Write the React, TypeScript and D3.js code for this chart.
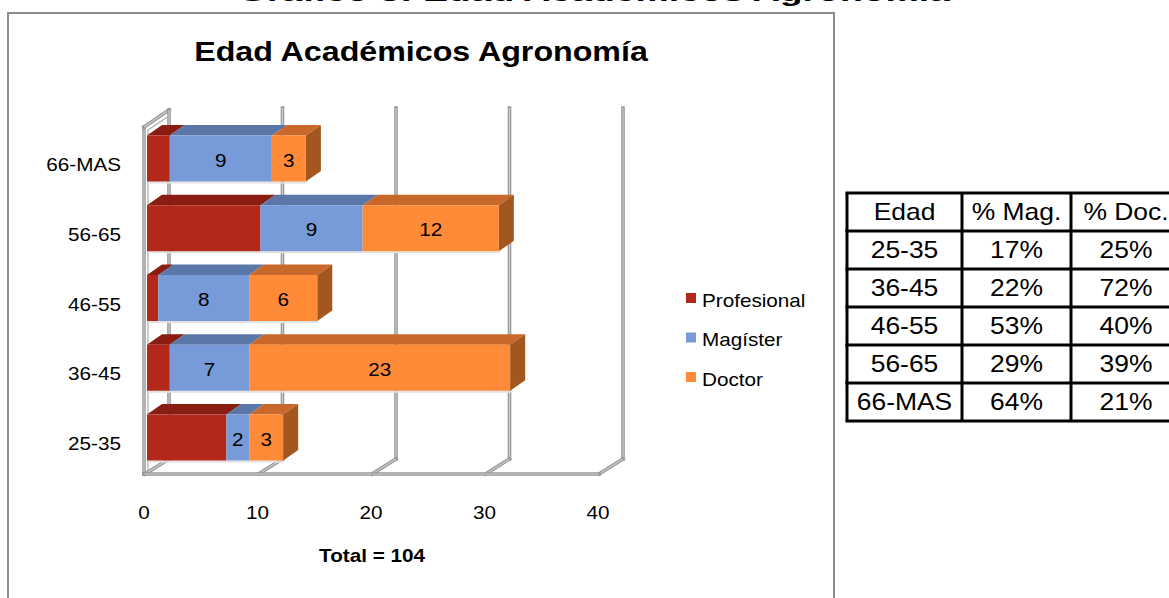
import React from "react";
import * as d3 from "d3";

// ---- data ----
const categories = ["25-35", "36-45", "46-55", "56-65", "66-MAS"];
const profesional = [7, 2, 1, 10, 2];
const magister = [2, 7, 8, 9, 9];
const doctor = [3, 23, 6, 12, 3];
const seriesNames = ["Profesional", "Magíster", "Doctor"];
const xTicks = [0, 10, 20, 30, 40];
const tableHeader = ["Edad", "% Mag.", "% Doc."];
const chartTitle = "Edad Académicos Agronomía";
const pageTitle = "Gráfico 3: Edad Académicos Agronomía";

const FRONT = ["#B2281A", "#779BD8", "#FF8A37"];
const TOP = ["#8A1D11", "#5A77A8", "#C8682A"];
const SIDE = ["#8A1D11", "#4F6A99", "#A4561F"];

const FONT = "'Liberation Sans', Arial, Helvetica, sans-serif";
const SX = 1.15;

function T({ x, y, size, anchor = "middle", bold = false, children, textLength }: any) {
  return (
    <text
      transform={`translate(${x},${y}) scale(${SX},1)`}
      fontSize={size}
      textAnchor={anchor}
      fontWeight={bold ? "bold" : "normal"}
      fontFamily={FONT}
      fill="#000"
      textLength={textLength}
      lengthAdjust={textLength ? "spacingAndGlyphs" : undefined}
    >
      {children}
    </text>
  );
}

function Tube({ x1, y1, x2, y2 }: any) {
  return (
    <g>
      <line x1={x1} y1={y1} x2={x2} y2={y2} stroke="#979797" strokeWidth={3.6} strokeLinecap="square" />
      <line x1={x1} y1={y1} x2={x2} y2={y2} stroke="#CFCFCF" strokeWidth={1.1} />
    </g>
  );
}

export default function App() {
  const x = d3.scaleLinear().domain([0, 40]).range([147, 601]);
  const y = d3.scalePoint<string>().domain([...categories].reverse()).range([158.5, 437.5]);
  const BH = 46; // bar front face height
  const BDX = 15, BDY = -10.5; // bar depth
  const WDX = 22, WDY = -15; // wall depth
  const floorY = 474;
  const gridTop = 110;

  const rows = categories.map((c, i) => {
    const vals = [profesional[i], magister[i], doctor[i]];
    const total = d3.sum(vals);
    return { c, vals, total };
  });
  const grand = d3.sum(rows, (r) => r.total);

  const x0 = x(0);
  const wallFrontX = x0 - 3;
  const wallBackX = x0 + WDX;

  // table geometry
  const colX = [847, 962, 1071, 1185];
  const rowY = d3.range(7).map((i) => 193 + i * 38);

  return (
    <svg
      width={1169}
      height={598}
      style={{ position: "absolute", left: 0, top: 0, background: "#fff" }}
    >
      <rect x={0} y={0} width={1169} height={598} fill="#fff" />
      {/* cut-off page title */}
      <text
        x={238}
        y={0.8}
        fontSize={24}
        fontWeight="bold"
        fontFamily={FONT}
        textLength={712}
        lengthAdjust="spacingAndGlyphs"
      >
        {pageTitle}
      </text>

      {/* chart frame */}
      <rect x={8} y={13} width={826} height={640} fill="#fff" stroke="#8C8C8C" strokeWidth={2} />

      <T x={421} y={61} size={28} bold>
        {chartTitle}
      </T>

      {/* left wall */}
      <polygon
        points={`${wallFrontX},${gridTop - WDY + 1} ${wallBackX},${gridTop} ${wallBackX},${floorY + WDY} ${wallFrontX},${floorY}`}
        fill="#fff"
      />
      <Tube x1={wallFrontX} y1={gridTop - WDY + 2} x2={wallFrontX} y2={floorY} />
      <Tube x1={wallFrontX} y1={gridTop - WDY + 2} x2={wallBackX} y2={gridTop} />
      <Tube x1={wallBackX} y1={gridTop} x2={wallBackX} y2={floorY + WDY} />
      <line x1={wallFrontX + 4} y1={gridTop - WDY + 5} x2={wallBackX} y2={gridTop + 6} stroke="#AAAAAA" strokeWidth={1.2} />
      <line x1={wallFrontX + 4} y1={gridTop - WDY + 5} x2={wallFrontX + 4} y2={floorY - 3} stroke="#AAAAAA" strokeWidth={1.2} />

      {/* back gridlines */}
      {xTicks.slice(1).map((v) => (
        <Tube key={"g" + v} x1={x(v) + WDX} y1={gridTop - 2} x2={x(v) + WDX} y2={floorY + WDY} />
      ))}

      {/* floor */}
      {xTicks.map((v) => (
        <Tube key={"f" + v} x1={x(v) - 2} y1={floorY} x2={x(v) + WDX} y2={floorY + WDY} />
      ))}
      <Tube x1={wallFrontX} y1={floorY} x2={x(40) - 2} y2={floorY} />

      {/* bars */}
      {rows.map((r) => {
        const cy = y(r.c)!;
        const yt = cy - BH / 2;
        const yb = cy + BH / 2;
        let acc = 0;
        const segs = r.vals.map((v, k) => {
          const s = { k, v, a: acc, b: acc + v };
          acc += v;
          return s;
        });
        const last = segs[segs.length - 1];
        return (
          <g key={r.c}>
            {/* shadow */}
            <rect x={x(0) + 1} y={yb} width={x(r.total) - x(0)} height={2} fill="#E2E2E2" />
            {segs.map((s) => (
              <polygon
                key={"t" + s.k}
                points={`${x(s.a)},${yt} ${x(s.a) + BDX},${yt + BDY} ${x(s.b) + BDX},${yt + BDY} ${x(s.b)},${yt}`}
                fill={TOP[s.k]}
              />
            ))}
            <polygon
              points={`${x(last.b)},${yt} ${x(last.b) + BDX},${yt + BDY} ${x(last.b) + BDX},${yb + BDY} ${x(last.b)},${yb}`}
              fill={SIDE[last.k]}
            />
            {segs.map((s) => (
              <rect key={"f" + s.k} x={x(s.a)} y={yt} width={x(s.b) - x(s.a)} height={BH} fill={FRONT[s.k]} />
            ))}
            {segs
              .filter((s) => s.k > 0)
              .map((s) => (
                <T key={"l" + s.k} x={(x(s.a) + x(s.b)) / 2} y={cy + 8} size={18}>
                  {s.v}
                </T>
              ))}
            <T x={121} y={cy + 12.5} size={18} anchor="end">
              {r.c}
            </T>
          </g>
        );
      })}

      {/* x tick labels */}
      {xTicks.map((v) => (
        <T key={"x" + v} x={x(v) - 3} y={519} size={18}>
          {v}
        </T>
      ))}
      <T x={372} y={562} size={18} bold>
        {`Total = ${grand}`}
      </T>

      {/* legend */}
      {seriesNames.map((n, k) => (
        <g key={n}>
          <rect x={686} y={293 + k * 39.5} width={10} height={10} fill={FRONT[k]} />
          <T x={702} y={306.5 + k * 39.5} size={18} anchor="start">
            {n}
          </T>
        </g>
      ))}

      {/* table */}
      {rowY.map((ry) => (
        <line key={"r" + ry} x1={colX[0] - 1.5} y1={ry} x2={1169} y2={ry} stroke="#000" strokeWidth={3} />
      ))}
      {colX.map((cx) => (
        <line key={"c" + cx} x1={cx} y1={rowY[0]} x2={cx} y2={rowY[6]} stroke="#000" strokeWidth={3} />
      ))}
      {tableHeader.map((h, j) => (
        <T key={h} x={(colX[j] + (j === 2 ? 1181 : colX[j + 1])) / 2} y={rowY[0] + 27} size={23}>
          {h}
        </T>
      ))}
      {rows.map((r, i) => {
        const cells = [
          r.c,
          `${Math.round((r.vals[1] / r.total) * 100)}%`,
          `${Math.round((r.vals[2] / r.total) * 100)}%`,
        ];
        return cells.map((t, j) => (
          <T
            key={r.c + j}
            x={(colX[j] + (j === 2 ? 1181 : colX[j + 1])) / 2}
            y={rowY[i + 1] + 27}
            size={23}
          >
            {t}
          </T>
        ));
      })}
    </svg>
  );
}
